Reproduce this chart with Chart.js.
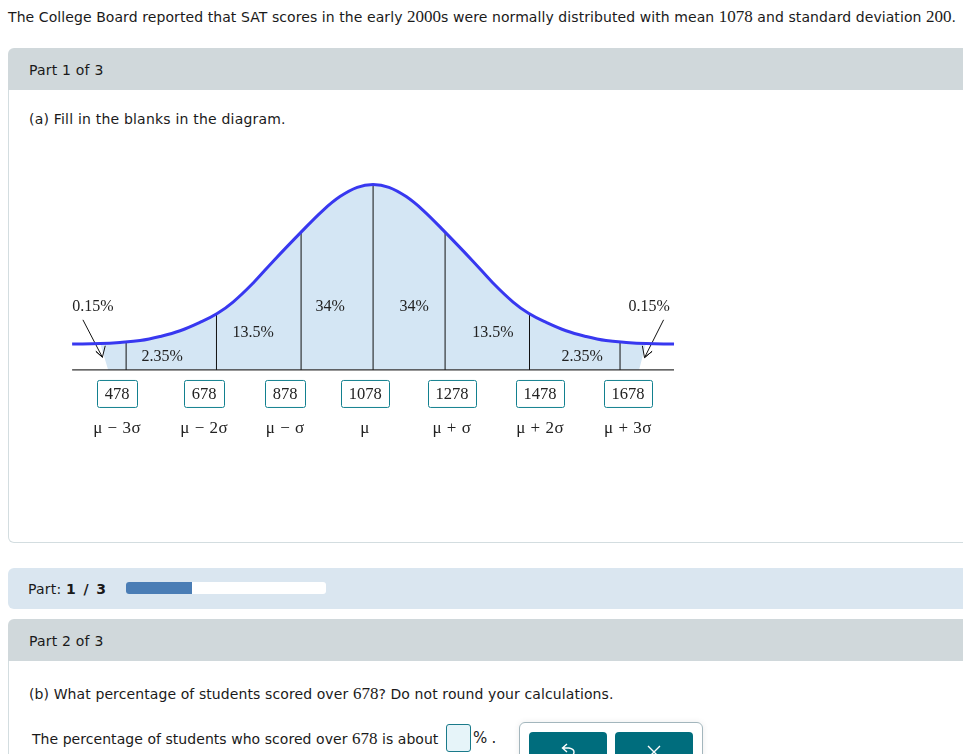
<!DOCTYPE html>
<html>
<head>
<meta charset="utf-8">
<title>SAT scores</title>
<script src="https://cdn.jsdelivr.net/npm/chart.js@4/dist/chart.umd.min.js"></script>
<style>
    html, body { margin: 0; padding: 0; background: #fff; }
    body { width: 963px; height: 754px; overflow: hidden; position: relative;
           font-family: "DejaVu Sans", Verdana, sans-serif; font-size: 14px; color: #1a1a1a; }
    .abs { position: absolute; white-space: nowrap; letter-spacing: 0.2px; }
    .num { font-family: "Liberation Serif", serif; font-size: 17px; letter-spacing: 0; }
    .bar { position: absolute; left: 8px; right: 0; background: #d0d8db; border-radius: 6px 0 0 0; }
    #panel1 { position: absolute; left: 8px; top: 90px; width: 960px; height: 452px;
              border: 1px solid #d3dde0; border-top: 0; border-radius: 0 0 6px 6px; box-sizing: content-box; }
    #panel2 { position: absolute; left: 8px; top: 661px; width: 960px; height: 110px; border-left: 1px solid #d3dde0; }
    #progressWrap { position: absolute; left: 8px; right: 0; top: 568px; height: 41px; background: #dae6f0; border-radius: 6px 0 0 6px; }
    #progress { position: absolute; left: 126px; top: 582px; width: 200px; height: 12px; background: #fff; border-radius: 3px; overflow: hidden; }
    #progress div { width: 66px; height: 12px; background: #4a7db5; }
    #chartBox { position: absolute; left: 57px; top: 166px; width: 648px; height: 278px; }
    #answer { position: absolute; left: 446px; top: 724px; width: 23px; height: 26px; background: #e6f4f9;
              border: 1px solid #1a7a8a; border-radius: 3px; }
    #card { position: absolute; left: 519px; top: 722px; width: 182px; height: 60px; border: 1px solid #a3b6bd;
            border-radius: 6px; box-shadow: 0 0 6px rgba(0,0,0,0.08); }
    .btn { position: absolute; top: 732px; width: 78px; height: 40px; background: #006d7d; border-radius: 4px; }
    #icons { position: absolute; left: 0; top: 0; }
</style>
</head>
<body>
<div class="abs" style="left:8px;top:7px;letter-spacing:0.08px">The College Board reported that SAT scores in the early <span class="num">2000</span>s were normally distributed with mean <span class="num">1078</span> and standard deviation <span class="num">200</span>.</div>

<div class="bar" style="top:48px;height:42px"></div>
<div class="abs" style="left:29px;top:62px">Part 1 of 3</div>
<div id="panel1"></div>
<div class="abs" style="left:29px;top:111px">(a) Fill in the blanks in the diagram.</div>

<div id="chartBox"><canvas id="bellChart"></canvas></div>

<div id="progressWrap"></div>
<div class="abs" style="left:28px;top:581px">Part: <b style="letter-spacing:1.4px">1 / 3</b></div>
<div id="progress"><div></div></div>

<div class="bar" style="top:619px;height:42px"></div>
<div class="abs" style="left:29px;top:633px">Part 2 of 3</div>
<div id="panel2"></div>
<div class="abs" style="left:29px;top:684px;letter-spacing:0.1px">(b) What percentage of students scored over <span class="num">678</span>? Do not round your calculations.</div>
<div class="abs" style="left:32px;top:729px;letter-spacing:0.05px">The percentage of students who scored over <span class="num">678</span> is about</div>
<div id="answer"></div>
<div class="abs" style="left:473px;top:729px;font-size:15px">%<span style="margin-left:4px">.</span></div>
<div id="card"></div>
<div class="btn" style="left:529px"></div>
<div class="btn" style="left:615px"></div>
<svg id="icons" width="963" height="754" fill="none" stroke="#fff" stroke-width="1.4">
    <path d="M567 744 L562.5 748 L567 752 M563 748 H569 Q574 749 574 752 Q574 755 571 756"/>
    <path d="M648 746 L660 758 M660 746 L648 758"/>
</svg>

<script>
// Curve as drawn in the diagram, x on a score-like axis, y as % of peak height
const curveX = [242, 320, 375, 431, 486, 542, 597, 645, 689, 745, 800, 878, 939, 986, 1034, 1078,
                1122, 1170, 1217, 1278, 1356, 1411, 1467, 1511, 1559, 1614, 1670, 1725, 1781, 1836, 1914];
const curveY = [13.9, 14.2, 14.8, 15.8, 18.0, 21.1, 25.6, 30.4, 36.6, 46.9, 58.5, 74.3, 86.1, 93.5, 98.5, 100,
                98.5, 93.5, 86.1, 74.3, 58.5, 46.9, 36.6, 30.4, 25.6, 21.1, 18.0, 15.8, 14.8, 14.2, 13.9];

// Lower edge of the shaded area
const shadeEdgeX = [320, 342, 1817, 1836];
const shadeEdgeY = [14.2, 0, 0, 14.2];

// Vertical dividers and the height where each meets the curve
const dividerX = [392, 643, 878, 1078, 1278, 1512.5, 1764];
const dividerY = [14.7, 30.1, 74.2, 100, 74.2, 30.1, 14.7];

const baselineX = [242, 1914];

// Percent labels inside the diagram
const pctLabels = ['0.15%', '2.35%', '13.5%', '34%', '34%', '13.5%', '2.35%', '0.15%'];
const pctX = [300, 492, 745, 959, 1192, 1411, 1659, 1845];
const pctY = [34, 7, 20, 34, 34, 20, 7, 34];

// Fill in boxes and sigma labels under the axis
const boxLabels = ['478', '678', '878', '1078', '1278', '1478', '1678'];
const sigmaLabels = ['μ − 3σ', 'μ − 2σ', 'μ − σ', 'μ', 'μ + σ', 'μ + 2σ', 'μ + 3σ'];
const boxX = [367, 609, 834, 1056, 1297, 1542, 1786];
const sigmaX = [367, 609, 834, 1056, 1297, 1542, 1786];

// Arrows from the 0.15% labels
const arrowLeftX = [272, 326, 308, 326, 334];
const arrowLeftY = [27, 6.8, 10, 6.8, 13];
const arrowRightX = [1885, 1832, 1853, 1832, 1826];
const arrowRightY = [27, 6.6, 10, 6.6, 13];

function toPoints(xs, ys) {
    return xs.map((x, i) => ({ x: x, y: ys[i] }));
}

// one line per divider, separated with gaps
function dividerPoints() {
    const points = [];
    dividerX.forEach((x, i) => {
        points.push({ x: x, y: 0 }, { x: x, y: dividerY[i] }, { x: x, y: null });
    });
    return points;
}

// Plugin that writes the text and boxes through the chart scales
const diagramText = {
    id: 'diagramText',
    afterDatasetsDraw(chart) {
        const ctx = chart.ctx;
        const xs = chart.scales.x;
        const ys = chart.scales.y;
        ctx.save();
        ctx.font = '16px "Liberation Serif", serif';
        ctx.fillStyle = '#222';
        ctx.textAlign = 'center';
        ctx.textBaseline = 'middle';

        pctLabels.forEach((label, i) => {
            ctx.fillText(label, xs.getPixelForValue(pctX[i]), ys.getPixelForValue(pctY[i]));
        });

        const boxY = ys.getPixelForValue(-13);
        const sigY = ys.getPixelForValue(-31.5);
        boxLabels.forEach((label, i) => {
            const cx = xs.getPixelForValue(boxX[i]);
            const w = label.length > 3 ? 48 : 40;
            ctx.beginPath();
            ctx.roundRect(Math.round(cx - w / 2) + 0.5, boxY - 13.5, w, 27, 2);
            ctx.strokeStyle = '#12808f';
            ctx.lineWidth = 1;
            ctx.stroke();
            ctx.fillStyle = '#222';
            ctx.font = '16.5px "Liberation Serif", serif';
            ctx.fillText(label, cx, boxY + 0.5);
            ctx.font = '17px "Liberation Serif", serif';
            ctx.letterSpacing = '0.5px';
            ctx.fillText(sigmaLabels[i], xs.getPixelForValue(sigmaX[i]), sigY);
            ctx.letterSpacing = '0px';
        });
        ctx.restore();
    }
};

new Chart(document.getElementById('bellChart').getContext('2d'), {
    type: 'scatter',
    data: {
        datasets: [
            { label: 'Curve', data: toPoints(curveX, curveY), showLine: true, pointRadius: 0,
              borderColor: '#3838f0', borderWidth: 3, tension: 0.4 },
            { label: 'Dividers', data: dividerPoints(), showLine: true, pointRadius: 0,
              borderColor: '#111', borderWidth: 1, spanGaps: false },
            { label: 'Baseline', data: [{ x: baselineX[0], y: 0 }, { x: baselineX[1], y: 0 }], showLine: true,
              pointRadius: 0, borderColor: '#333', borderWidth: 1.2 },
            { label: 'Arrow left', data: toPoints(arrowLeftX, arrowLeftY), showLine: true, pointRadius: 0,
              borderColor: '#111', borderWidth: 1 },
            { label: 'Arrow right', data: toPoints(arrowRightX, arrowRightY), showLine: true, pointRadius: 0,
              borderColor: '#111', borderWidth: 1 },
            { label: 'Shade', data: toPoints(curveX.slice(1, -1), curveY.slice(1, -1)), showLine: true, pointRadius: 0,
              borderWidth: 0, borderColor: 'rgba(0,0,0,0)', backgroundColor: '#d4e6f4', fill: '+1', tension: 0.4 },
            { label: 'Shade edge', data: toPoints(shadeEdgeX, shadeEdgeY), showLine: true, pointRadius: 0,
              borderWidth: 0, borderColor: 'rgba(0,0,0,0)' }
        ]
    },
    options: {
        responsive: true,
        maintainAspectRatio: false,
        animation: false,
        layout: { padding: 0 },
        plugins: { legend: { display: false }, tooltip: { enabled: false } },
        scales: {
            x: { type: 'linear', display: false, min: 200, max: 2000 },
            y: { type: 'linear', display: false, min: -40, max: 110 }
        }
    },
    plugins: [diagramText]
});
</script>
</body>
</html>
